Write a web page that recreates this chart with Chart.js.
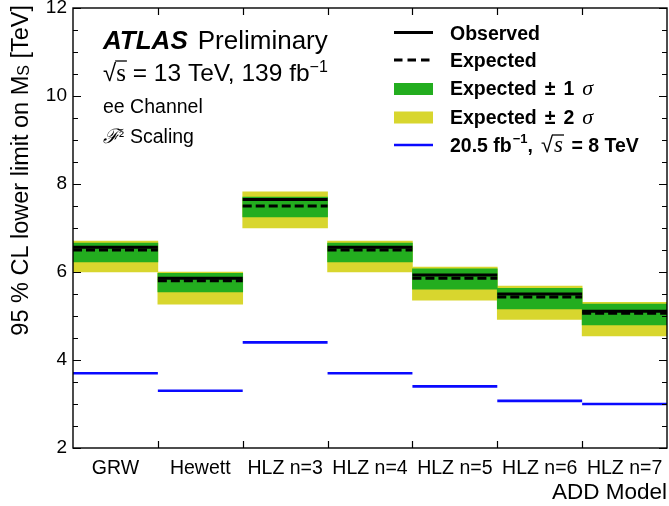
<!DOCTYPE html>
<html>
<head>
<meta charset="utf-8">
<script src="https://cdn.jsdelivr.net/npm/chart.js@4/dist/chart.umd.min.js"></script>
<style>
  html, body { margin: 0; padding: 0; background: #ffffff; }
  #wrap { width: 669px; height: 506px; }
</style>
</head>
<body>
<div id="wrap"><canvas id="limits" width="669" height="506"></canvas></div>
<script>
// ADD models and 95% CL lower limits on M_S [TeV]
const models    = ['GRW', 'Hewett', 'HLZ n=3', 'HLZ n=4', 'HLZ n=5', 'HLZ n=6', 'HLZ n=7'];
const observed  = [6.56, 5.86, 7.65, 6.56, 5.93, 5.50, 5.11];
const expected  = [6.50, 5.80, 7.50, 6.50, 5.86, 5.43, 5.06];
const sigma1Low  = [6.23, 5.55, 7.25, 6.23, 5.61, 5.16, 4.80];
const sigma1High = [6.66, 5.97, 7.70, 6.66, 6.07, 5.63, 5.27];
const sigma2Low  = [6.00, 5.27, 7.00, 6.00, 5.36, 4.92, 4.55];
const sigma2High = [6.70, 6.00, 7.82, 6.70, 6.11, 5.68, 5.31];
const run1Limit  = [3.70, 3.30, 4.40, 3.70, 3.40, 3.07, 3.00];
const yRange = [2, 12];
const yMajorStep = 2;
const yMinorStep = 0.5;

const SANS = '"Liberation Sans", Arial, Helvetica, sans-serif';
const SERIF = '"Liberation Serif", "Times New Roman", serif';
const GREEN = '#23ad1f';
const YELLOW = '#d8d62e';
const BLUE = '#0a0aff';

// one horizontal segment per model, spanning the whole model slot
function segments(values) {
  const pts = [];
  values.forEach((v, i) => {
    pts.push({ x: i, y: v }, { x: i + 1, y: v }, { x: i + 1, y: null });
  });
  return pts;
}

const lineCommon = {
  type: 'line', xAxisID: 'xl', yAxisID: 'y',
  pointRadius: 0, pointHoverRadius: 0, spanGaps: false,
  borderCapStyle: 'butt', fill: false, tension: 0
};

const datasets = [
  Object.assign({}, lineCommon, {
    label: 'Observed', data: segments(observed),
    borderColor: '#000000', borderWidth: 3, order: 1
  }),
  Object.assign({}, lineCommon, {
    label: 'Expected', data: segments(expected),
    borderColor: '#000000', borderWidth: 3, borderDash: [9, 4], order: 2
  }),
  Object.assign({}, lineCommon, {
    label: '20.5 fb\u207B\u00B9, \u221As = 8 TeV', data: segments(run1Limit),
    borderColor: BLUE, borderWidth: 2.6, order: 3
  }),
  {
    type: 'bar', label: 'Expected \u00B1 1 \u03C3', xAxisID: 'x', yAxisID: 'y',
    data: models.map((_, i) => [sigma1Low[i], sigma1High[i]]),
    backgroundColor: GREEN, borderWidth: 0, borderSkipped: false,
    grouped: false, barPercentage: 1, categoryPercentage: 1, order: 4
  },
  {
    type: 'bar', label: 'Expected \u00B1 2 \u03C3', xAxisID: 'x', yAxisID: 'y',
    data: models.map((_, i) => [sigma2Low[i], sigma2High[i]]),
    backgroundColor: YELLOW, borderWidth: 0, borderSkipped: false,
    grouped: false, barPercentage: 1, categoryPercentage: 1, order: 5
  }
];

// draws a run of text pieces with their own fonts and vertical shifts
function drawRun(ctx, x, y, parts) {
  let cx = x;
  for (const p of parts) {
    cx += (p.pre || 0);
    ctx.font = p.f;
    ctx.fillText(p.t, cx, y + (p.dy || 0));
    const w = ctx.measureText(p.t).width;
    p.x0 = cx; p.x1 = cx + w;
    cx += w + (p.gap || 0);
  }
  return cx;
}

function overline(ctx, x0, x1, y, w) {
  ctx.beginPath();
  ctx.lineWidth = w;
  ctx.moveTo(x0, y);
  ctx.lineTo(x1, y);
  ctx.stroke();
}

// frame, inward tick marks on all four sides
const framePlugin = {
  id: 'frame',
  afterDatasetsDraw(chart) {
    const { ctx, chartArea: a, scales } = chart;
    const y = scales.y, xl = scales.xl;
    ctx.save();
    ctx.strokeStyle = '#000';
    ctx.lineWidth = 1.4;
    ctx.strokeRect(a.left, a.top, a.right - a.left, a.bottom - a.top);
    ctx.beginPath();
    for (let v = yRange[0]; v <= yRange[1] + 1e-9; v += yMinorStep) {
      const py = Math.round(y.getPixelForValue(v)) + 0.5;
      const len = Math.abs(v / yMajorStep - Math.round(v / yMajorStep)) < 1e-6 ? 8 : 5;
      ctx.moveTo(a.left, py); ctx.lineTo(a.left + len, py);
      ctx.moveTo(a.right, py); ctx.lineTo(a.right - len, py);
    }
    for (let i = 1; i < models.length; i++) {
      const px = Math.round(xl.getPixelForValue(i)) + 0.5;
      ctx.moveTo(px, a.bottom); ctx.lineTo(px, a.bottom - 7);
      ctx.moveTo(px, a.top); ctx.lineTo(px, a.top + 7);
    }
    ctx.lineWidth = 1.2;
    ctx.stroke();
    ctx.restore();
  }
};

// y-axis title with subscript, aligned to the top of the axis
const yTitlePlugin = {
  id: 'yTitle',
  afterDraw(chart) {
    const { ctx, chartArea: a } = chart;
    ctx.save();
    ctx.fillStyle = '#000';
    ctx.textBaseline = 'middle';
    ctx.translate(22, a.top - 3);
    ctx.rotate(-Math.PI / 2);
    const parts = [
      { t: '95 % CL lower limit on M', f: '23.5px ' + SANS },
      { t: 'S', f: '16px ' + SANS, dy: 3 },
      { t: ' [TeV]', f: '23.5px ' + SANS }
    ];
    let w = 0;
    for (const p of parts) { ctx.font = p.f; w += ctx.measureText(p.t).width; }
    drawRun(ctx, -w, 0, parts);
    ctx.restore();
  }
};

// experiment label and run conditions
const headerPlugin = {
  id: 'header',
  afterDraw(chart) {
    const ctx = chart.ctx;
    ctx.save();
    ctx.fillStyle = '#000';
    ctx.strokeStyle = '#000';
    ctx.textBaseline = 'alphabetic';
    ctx.textAlign = 'left';
    let x = drawRun(ctx, 103, 49, [{ t: 'ATLAS', f: 'italic bold 26px ' + SANS }]);
    drawRun(ctx, x + 10, 49, [{ t: 'Preliminary', f: '26px ' + SANS }]);

    const p2 = [
      { t: '\u221A', f: '24px ' + SANS },
      { t: 's', f: '25px ' + SERIF },
      { t: ' = 13 TeV, 139 fb', f: '24.5px ' + SANS },
      { t: '\u22121', f: '16px ' + SANS, dy: -9 }
    ];
    drawRun(ctx, 103, 81, p2);
    overline(ctx, p2[0].x1 - 1, p2[1].x1 + 1, 81 - 20, 1.3);

    drawRun(ctx, 103, 113, [{ t: 'ee Channel', f: '19.5px ' + SANS }]);
    drawRun(ctx, 103, 143, [
      { t: '\u2131', f: 'italic 20px "DejaVu Serif", ' + SERIF },
      { t: '\u00B2', f: '15px ' + SANS, dy: -2, gap: 6 },
      { t: 'Scaling', f: '19.5px ' + SANS }
    ]);
    ctx.restore();
  }
};

// legend built from the dataset styles
const legendPlugin = {
  id: 'atlasLegend',
  afterDraw(chart) {
    const ctx = chart.ctx;
    const ds = chart.data.datasets;
    const byLabel = l => ds.find(d => d.label === l);
    const x0 = 394, x1 = 433, tx = 450;
    const B = 'bold 19.5px ' + SANS;
    ctx.save();
    ctx.fillStyle = '#000';
    ctx.textBaseline = 'alphabetic';

    const rows = [
      { ds: byLabel('Observed'), kind: 'line', y: 39.5, parts: [{ t: 'Observed', f: B }] },
      { ds: byLabel('Expected'), kind: 'line', y: 67, parts: [{ t: 'Expected', f: B }] },
      { ds: byLabel('Expected \u00B1 1 \u03C3'), kind: 'box', y: 95,
        parts: [{ t: 'Expected', f: B }, { t: '\u00B1', f: B, pre: 8 }, { t: '1', f: B, pre: 8 },
                { t: '\u03C3', f: 'italic 22px ' + SERIF, pre: 8 }] },
      { ds: byLabel('Expected \u00B1 2 \u03C3'), kind: 'box', y: 123.5,
        parts: [{ t: 'Expected', f: B }, { t: '\u00B1', f: B, pre: 8 }, { t: '2', f: B, pre: 8 },
                { t: '\u03C3', f: 'italic 22px ' + SERIF, pre: 8 }] },
      { ds: byLabel('20.5 fb\u207B\u00B9, \u221As = 8 TeV'), kind: 'line', y: 152,
        parts: [{ t: '20.5 fb', f: B }, { t: '\u22121', f: 'bold 13px ' + SANS, dy: -9, pre: 1 },
                { t: ',', f: B }, { t: '\u221A', f: '22px ' + SANS, pre: 8 },
                { t: 's', f: 'italic 23px ' + SERIF, pre: 1 }, { t: ' = 8 TeV', f: B, pre: 3 }] }
    ];

    for (const r of rows) {
      const d = r.ds;
      if (r.kind === 'line') {
        const ly = r.y - 7;
        ctx.save();
        ctx.strokeStyle = d.borderColor;
        ctx.lineWidth = d.borderWidth;
        ctx.setLineDash(d.borderDash ? [8.5, 5] : []);
        ctx.beginPath();
        ctx.moveTo(x0, ly); ctx.lineTo(d.borderDash ? 431 : x1, ly);
        ctx.stroke();
        ctx.restore();
      } else {
        ctx.fillStyle = d.backgroundColor;
        ctx.fillRect(x0, r.y - 12, x1 - x0, 12);
        ctx.fillStyle = '#000';
      }
      drawRun(ctx, tx, r.y, r.parts);
    }
    const last = rows[4].parts;
    ctx.strokeStyle = '#000';
    overline(ctx, last[3].x1 - 1, last[4].x1 + 1, 152 - 17, 1.3);
    ctx.restore();
  }
};

new Chart(document.getElementById('limits'), {
  type: 'bar',
  data: { labels: models, datasets: datasets },
  options: {
    responsive: false,
    animation: false,
    devicePixelRatio: 1,
    layout: { padding: { top: 8, right: 2, left: 0, bottom: 0 } },
    plugins: { legend: { display: false }, tooltip: { enabled: false } },
    scales: {
      x: {
        type: 'category',
        offset: true,
        grid: { display: false, drawTicks: false },
        border: { display: false },
        ticks: { color: '#000', font: { family: SANS, size: 19.5 }, padding: 9, maxRotation: 0, autoSkip: false },
        title: { display: true, text: 'ADD Model', align: 'end', color: '#000',
                 font: { family: SANS, size: 22.5 }, padding: { top: 2, bottom: 0 } },
        afterFit(s) { s.height = 58; s.paddingLeft = 0; s.paddingRight = 0; }
      },
      xl: { type: 'linear', min: 0, max: models.length, offset: false, display: false,
            grid: { offset: false } },
      y: {
        type: 'linear',
        min: yRange[0], max: yRange[1],
        grid: { display: false, drawTicks: false },
        border: { display: false },
        ticks: { stepSize: yMajorStep, color: '#000', font: { family: SANS, size: 19 }, padding: 6 },
        afterFit(s) { s.width = 73; s.paddingTop = 0; s.paddingBottom = 0; }
      }
    }
  },
  plugins: [framePlugin, yTitlePlugin, headerPlugin, legendPlugin]
});
</script>
</body>
</html>
